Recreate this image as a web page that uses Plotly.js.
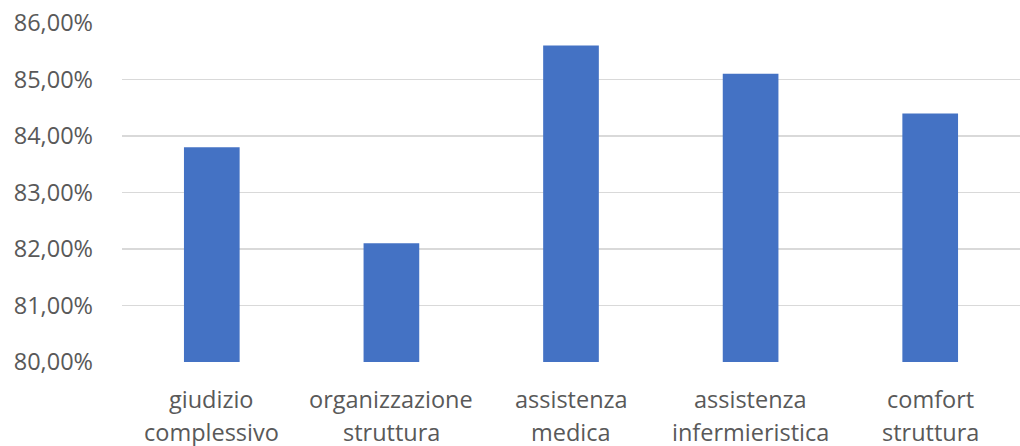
<!DOCTYPE html>
<html>
<head>
<meta charset="utf-8">
<script src="https://cdn.plot.ly/plotly-3.0.1.min.js"></script>
<style>html,body{margin:0;padding:0;background:#fff;}#chart{width:1020px;height:446px;}</style>
</head>
<body>
<div id="chart"></div>
<script>
const categories = ["giudizio complessivo", "organizzazione struttura", "assistenza medica", "assistenza infermieristica", "comfort struttura"];
const labelLine1 = ["giudizio", "organizzazione", "assistenza", "assistenza", "comfort"];
const labelLine2 = ["complessivo", "struttura", "medica", "infermieristica", "struttura"];
const values = [0.838, 0.821, 0.856, 0.851, 0.844];
const yTicks = [0.80, 0.81, 0.82, 0.83, 0.84, 0.85, 0.86];
const yTickText = ["80,00%", "81,00%", "82,00%", "83,00%", "84,00%", "85,00%", "86,00%"];

const font = {family: "Open Sans, sans-serif", size: 23.5, color: "#595959"};
const annotations = [];
categories.forEach((c, i) => {
  annotations.push({x: c, y: 0, xref: "x", yref: "paper", yshift: -37, text: labelLine1[i], showarrow: false, font: font, xanchor: "center", yanchor: "middle"});
  annotations.push({x: c, y: 0, xref: "x", yref: "paper", yshift: -70, text: labelLine2[i], showarrow: false, font: font, xanchor: "center", yanchor: "middle"});
});

Plotly.newPlot("chart", [{
  type: "bar", x: categories, y: values,
  marker: {color: "#4472C4", line: {width: 0}},
  width: 0.31, hoverinfo: "none"
}], {
  width: 1020, height: 446,
  margin: {l: 122, r: 0, t: 23, b: 84, pad: 0},
  paper_bgcolor: "#fff", plot_bgcolor: "#fff",
  showlegend: false,
  font: font,
  xaxis: {showticklabels: false, showgrid: false, zeroline: false, showline: false, ticks: "", fixedrange: true},
  yaxis: {range: [0.80, 0.86], tickvals: yTicks, ticktext: yTickText, showgrid: true, gridcolor: "#d9d9d9", gridwidth: 1.3,
          zeroline: false, showline: false, ticks: "", ticklabelstandoff: 28, tickfont: font, fixedrange: true},
  annotations: annotations
}, {displayModeBar: false, staticPlot: true});
</script>
</body>
</html>
